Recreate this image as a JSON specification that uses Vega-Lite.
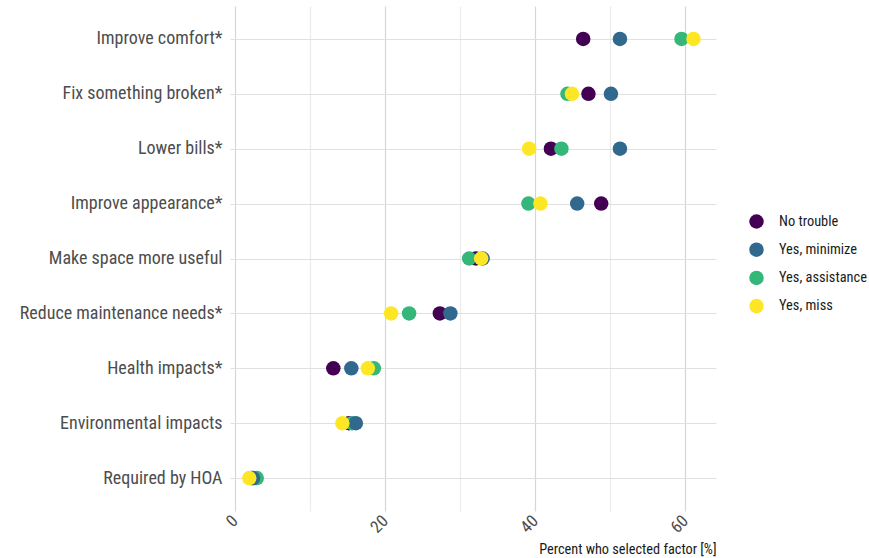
{
  "$schema": "https://vega.github.io/schema/vega-lite/v6.json",
  "width": 486,
  "height": 505,
  "autosize": {"type": "none"},
  "padding": {"left": 230, "top": 6, "right": 153, "bottom": 47},
  "background": "white",
  "config": {
    "view": {"stroke": null},
    "font": "Roboto Condensed, Liberation Sans Narrow, Roboto"
  },
  "data": {
    "values": [
      {"factor": "Improve comfort*", "group": "No trouble", "pct": 46.4},
      {"factor": "Improve comfort*", "group": "Yes, minimize", "pct": 51.3},
      {"factor": "Improve comfort*", "group": "Yes, assistance", "pct": 59.5},
      {"factor": "Improve comfort*", "group": "Yes, miss", "pct": 61.1},
      {"factor": "Fix something broken*", "group": "No trouble", "pct": 47.1},
      {"factor": "Fix something broken*", "group": "Yes, minimize", "pct": 50.1},
      {"factor": "Fix something broken*", "group": "Yes, assistance", "pct": 44.3},
      {"factor": "Fix something broken*", "group": "Yes, miss", "pct": 44.9},
      {"factor": "Lower bills*", "group": "No trouble", "pct": 42.1},
      {"factor": "Lower bills*", "group": "Yes, minimize", "pct": 51.3},
      {"factor": "Lower bills*", "group": "Yes, assistance", "pct": 43.5},
      {"factor": "Lower bills*", "group": "Yes, miss", "pct": 39.2},
      {"factor": "Improve appearance*", "group": "No trouble", "pct": 48.8},
      {"factor": "Improve appearance*", "group": "Yes, minimize", "pct": 45.6},
      {"factor": "Improve appearance*", "group": "Yes, assistance", "pct": 39.1},
      {"factor": "Improve appearance*", "group": "Yes, miss", "pct": 40.7},
      {"factor": "Make space more useful", "group": "No trouble", "pct": 32.1},
      {"factor": "Make space more useful", "group": "Yes, minimize", "pct": 33.0},
      {"factor": "Make space more useful", "group": "Yes, assistance", "pct": 31.2},
      {"factor": "Make space more useful", "group": "Yes, miss", "pct": 32.8},
      {"factor": "Reduce maintenance needs*", "group": "No trouble", "pct": 27.3},
      {"factor": "Reduce maintenance needs*", "group": "Yes, minimize", "pct": 28.7},
      {"factor": "Reduce maintenance needs*", "group": "Yes, assistance", "pct": 23.2},
      {"factor": "Reduce maintenance needs*", "group": "Yes, miss", "pct": 20.8},
      {"factor": "Health impacts*", "group": "No trouble", "pct": 13.1},
      {"factor": "Health impacts*", "group": "Yes, minimize", "pct": 15.5},
      {"factor": "Health impacts*", "group": "Yes, assistance", "pct": 18.5},
      {"factor": "Health impacts*", "group": "Yes, miss", "pct": 17.7},
      {"factor": "Environmental impacts", "group": "No trouble", "pct": 15.2},
      {"factor": "Environmental impacts", "group": "Yes, minimize", "pct": 16.1},
      {"factor": "Environmental impacts", "group": "Yes, assistance", "pct": 15.6},
      {"factor": "Environmental impacts", "group": "Yes, miss", "pct": 14.3},
      {"factor": "Required by HOA", "group": "No trouble", "pct": 2.2},
      {"factor": "Required by HOA", "group": "Yes, minimize", "pct": 2.4},
      {"factor": "Required by HOA", "group": "Yes, assistance", "pct": 2.9},
      {"factor": "Required by HOA", "group": "Yes, miss", "pct": 1.9}
    ]
  },
  "mark": {"type": "circle", "size": 210, "opacity": 1},
  "encoding": {
    "y": {
      "field": "factor",
      "type": "nominal",
      "sort": ["Improve comfort*", "Fix something broken*", "Lower bills*", "Improve appearance*", "Make space more useful", "Reduce maintenance needs*", "Health impacts*", "Environmental impacts", "Required by HOA"],
      "scale": {"type": "point", "padding": 0.6},
      "axis": {
        "title": null,
        "domain": false,
        "ticks": false,
        "labelFontSize": 18,
        "labelLimit": 300,
        "labelColor": "#4d4d4d",
        "labelPadding": 8,
        "grid": true,
        "gridColor": "#e0e0e0",
        "gridWidth": 1.2
      }
    },
    "x": {
      "field": "pct",
      "type": "quantitative",
      "scale": {"domain": [-0.67, 64.1], "nice": false, "zero": false},
      "axis": {
        "title": "Percent who selected factor [%]",
        "titleFontSize": 14.3,
        "titleFontWeight": "normal",
        "titleColor": "#1a1a1a",
        "titleAnchor": "end",
        "titlePadding": 7,
        "values": [0, 10, 20, 30, 40, 50, 60],
        "labelExpr": "datum.value % 20 === 0 ? datum.label : ''",
        "labelAngle": -45,
        "labelAlign": "right",
        "labelBaseline": "middle",
        "labelFontSize": 17,
        "labelColor": "#4d4d4d",
        "labelPadding": 7,
        "domain": false,
        "ticks": false,
        "grid": true,
        "gridColor": {"condition": {"test": "datum.value % 20 === 0", "value": "#d6d6d6"}, "value": "#ebebeb"},
        "gridWidth": 1.2
      }
    },
    "color": {
      "field": "group",
      "type": "nominal",
      "sort": ["No trouble", "Yes, minimize", "Yes, assistance", "Yes, miss"],
      "scale": {"domain": ["No trouble", "Yes, minimize", "Yes, assistance", "Yes, miss"], "range": ["#440154", "#31688E", "#35B779", "#FDE725"]},
      "legend": {
        "title": null,
        "orient": "none",
        "legendX": 519,
        "legendY": 208,
        "padding": 0,
        "symbolType": "circle",
        "symbolSize": 210,
        "symbolStrokeWidth": 0,
        "symbolOpacity": 1,
        "labelFontSize": 14.4,
        "labelLimit": 200,
        "labelColor": "#1a1a1a",
        "labelOffset": 15,
        "rowPadding": 12.2
      }
    },
    "order": {"field": "group", "sort": "ascending"}
  }
}
